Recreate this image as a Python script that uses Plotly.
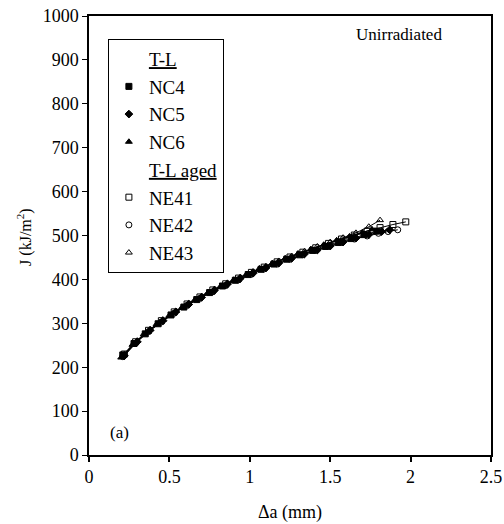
import plotly.graph_objects as go

# ---- data ----
nc4_x = [0.21, 0.28, 0.35, 0.43, 0.51, 0.59, 0.67, 0.75, 0.83, 0.91, 0.99, 1.07, 1.15, 1.23, 1.31, 1.39, 1.47, 1.55, 1.63, 1.71, 1.79]
nc4_y = [228, 254, 276, 299, 319, 337, 354, 370, 385, 398, 411, 423, 435, 446, 456, 466, 475, 484, 493, 502, 510]

nc5_x = [0.22, 0.30, 0.38, 0.46, 0.54, 0.62, 0.70, 0.78, 0.86, 0.94, 1.02, 1.10, 1.18, 1.26, 1.34, 1.42, 1.50, 1.58, 1.66, 1.74, 1.82, 1.87]
nc5_y = [226, 258, 284, 306, 326, 343, 359, 375, 389, 402, 414, 426, 437, 448, 458, 467, 476, 485, 494, 502, 509, 513]

nc6_x = [0.20, 0.27, 0.34, 0.42, 0.50, 0.58, 0.66, 0.74, 0.82, 0.90, 0.98, 1.06, 1.14, 1.22, 1.30, 1.38, 1.46, 1.54, 1.62, 1.70, 1.76]
nc6_y = [222, 251, 275, 298, 318, 337, 354, 370, 385, 399, 412, 425, 437, 448, 459, 469, 479, 489, 498, 507, 514]

ne41_x = [0.22, 0.29, 0.37, 0.45, 0.53, 0.61, 0.69, 0.77, 0.85, 0.93, 1.01, 1.09, 1.17, 1.25, 1.33, 1.41, 1.49, 1.57, 1.65, 1.73, 1.81, 1.89, 1.97]
ne41_y = [230, 258, 284, 306, 326, 344, 360, 376, 390, 403, 416, 428, 440, 451, 462, 472, 482, 492, 501, 510, 518, 525, 531]

ne42_x = [0.21, 0.29, 0.37, 0.45, 0.53, 0.61, 0.69, 0.77, 0.85, 0.93, 1.01, 1.09, 1.17, 1.25, 1.33, 1.41, 1.49, 1.57, 1.65, 1.73, 1.80, 1.86, 1.92]
ne42_y = [224, 255, 281, 303, 323, 341, 357, 372, 386, 399, 412, 424, 435, 446, 456, 466, 475, 484, 492, 499, 505, 509, 513]

ne43_x = [0.22, 0.30, 0.38, 0.46, 0.54, 0.62, 0.70, 0.78, 0.86, 0.94, 1.02, 1.10, 1.18, 1.26, 1.34, 1.42, 1.50, 1.58, 1.66, 1.74, 1.81]
ne43_y = [229, 260, 286, 308, 328, 346, 362, 378, 392, 405, 418, 430, 442, 453, 464, 475, 485, 495, 506, 520, 535]

x_ticks = [0, 0.5, 1, 1.5, 2, 2.5]
x_tick_labels = ["0", "0.5", "1", "1.5", "2", "2.5"]
y_ticks = [0, 100, 200, 300, 400, 500, 600, 700, 800, 900, 1000]

FONT = "Liberation Serif"

series = [
    ("header", "<u>T-L</u>", None, None, None),
    ("data", "NC4", nc4_x, nc4_y, "square"),
    ("data", "NC5", nc5_x, nc5_y, "diamond"),
    ("data", "NC6", nc6_x, nc6_y, "triangle-up"),
    ("header", "<u>T-L aged</u>", None, None, None),
    ("data", "NE41", ne41_x, ne41_y, "square-open"),
    ("data", "NE42", ne42_x, ne42_y, "circle-open"),
    ("data", "NE43", ne43_x, ne43_y, "triangle-up-open"),
]

fig = go.Figure()
# data curves (not in legend)
for kind, name, xs, ys, sym in series:
    if kind == "data":
        fig.add_trace(go.Scatter(
            x=xs, y=ys, mode="lines+markers", name=name,
            line=dict(color="black", width=1),
            marker=dict(symbol=sym, size=6, color="black",
                        line=dict(color="black", width=1)),
            showlegend=False))
# legend entries (marker only, with underlined headers)
for kind, name, xs, ys, sym in series:
    if kind == "header":
        fig.add_trace(go.Scatter(
            x=[None], y=[None], mode="markers", name=name,
            marker=dict(color="rgba(0,0,0,0)", size=1),
            showlegend=True, hoverinfo="skip"))
    else:
        fig.add_trace(go.Scatter(
            x=[None], y=[None], mode="markers", name=name,
            marker=dict(symbol=sym, size=6, color="black",
                        line=dict(color="black", width=1)),
            showlegend=True, hoverinfo="skip"))

fig.update_layout(
    width=504, height=524,
    margin=dict(l=89, r=13, t=16, b=69, autoexpand=False),
    paper_bgcolor="white", plot_bgcolor="white",
    font=dict(family=FONT, size=17, color="black"),
    showlegend=True,
    legend=dict(
        x=0.047, y=0.948, xanchor="left", yanchor="top",
        bgcolor="white", bordercolor="black", borderwidth=1,
        font=dict(family=FONT, size=19, color="black"),
        tracegroupgap=0, itemwidth=30,
    ),
    xaxis=dict(
        range=[0, 2.5], tickvals=x_ticks, ticktext=x_tick_labels,
        showgrid=False, zeroline=False, automargin=False,
        showline=True, linecolor="black", linewidth=1.5, mirror=True,
        ticks="outside", ticklen=5, tickcolor="black", tickwidth=1.5,
        tickfont=dict(family=FONT, size=18), ticklabeloverflow="allow",
    ),
    yaxis=dict(
        range=[0, 1000], tickvals=y_ticks,
        showgrid=False, zeroline=False, automargin=False,
        showline=True, linecolor="black", linewidth=1.5, mirror=True,
        ticks="outside", ticklen=5, tickcolor="black", tickwidth=1,
        tickfont=dict(family=FONT, size=18), ticklabeloverflow="allow",
    ),
    annotations=[
        dict(text="Δa (mm)", x=0.5, y=-0.13, xref="paper", yref="paper",
             xanchor="center", yanchor="middle", showarrow=False,
             font=dict(family=FONT, size=18)),
        dict(text="J (kJ/m<sup>2</sup>)", x=-0.159, y=0.497, xref="paper", yref="paper",
             xanchor="center", yanchor="middle", showarrow=False, textangle=-90,
             font=dict(family=FONT, size=16)),
        dict(text="Unirradiated", x=0.77, y=0.957, xref="paper", yref="paper",
             xanchor="center", yanchor="middle", showarrow=False,
             font=dict(family=FONT, size=17)),
        dict(text="(a)", x=0.077, y=0.052, xref="paper", yref="paper",
             xanchor="center", yanchor="middle", showarrow=False,
             font=dict(family=FONT, size=17)),
    ],
)

# remove the page's default 8px body margin so the figure fills the window
fig.write_html("out.html",
               config={"displayModeBar": False},
               post_script="document.body.style.margin='0';document.body.style.overflow='hidden';")
